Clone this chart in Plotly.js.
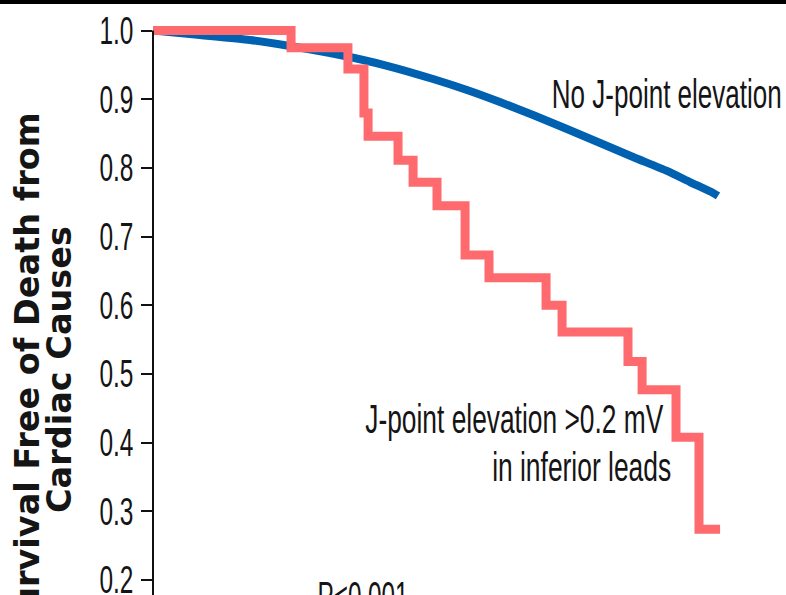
<!DOCTYPE html>
<html>
<head>
<meta charset="utf-8">
<script src="https://cdn.plot.ly/plotly-3.0.1.min.js"></script>
<style>
html,body{margin:0;padding:0;background:#fff;}
#chart{width:786px;height:595px;}
</style>
</head>
<body>
<div id="chart"></div>
<script>
// Data (years of follow-up, survival probability)
const noJTime = [0, 2.5, 5.15, 7.27, 9.93, 12.48, 14.87, 16.67, 18.42, 20.18, 21.98, 23.74, 25.49, 27.29, 28.51, 29.74, 30.0];
const noJSurv = [1.0, 0.9934, 0.9862, 0.9774, 0.9643, 0.9483, 0.9294, 0.9134, 0.8959, 0.8770, 0.8566, 0.8362, 0.8158, 0.7955, 0.7794, 0.7634, 0.7591];

const jTime = [0, 7.33, 10.35, 11.20, 11.42, 13.01, 13.81, 15.08, 16.57, 17.84, 20.87, 21.72, 25.22, 25.97, 27.77, 28.99, 30.11];
const jSurv = [1.0, 0.975, 0.944, 0.880, 0.846, 0.811, 0.779, 0.745, 0.673, 0.640, 0.600, 0.561, 0.518, 0.477, 0.408, 0.274, 0.274];

const yTickVals = [0.2, 0.3, 0.4, 0.5, 0.6, 0.7, 0.8, 0.9, 1.0];
const yTickText = ["0.2", "0.3", "0.4", "0.5", "0.6", "0.7", "0.8", "0.9", "1.0"];

const labelNoJ = "No J-point elevation";
const labelJ1 = "J-point elevation >0.2 mV";
const labelJ2 = "in inferior leads";
const pText = "P<0.001";
const yTitle1 = "Survival Free of Death from";
const yTitle2 = "Cardiac Causes";

// Layout geometry
const W = 786, H = 595, L = 153;
const xMax = 33.61;
const yMin = 0.1782, yMax = 1.0444;
const plotW = W - L;
function px2x(px){ return (px - L) / plotW * xMax; }
function py2y(py){ return yMax - py / H * (yMax - yMin); }
function px2paper(px){ return (px - L) / plotW; }
function py2paper(py){ return 1 - py / H; }

const tickFont = {family: "Liberation Sans, Arial, sans-serif", size: 38, color: "#151515"};
const txtFont = {family: "Liberation Sans, Arial, sans-serif", size: 40, color: "#151515"};
const titleFont = {family: "DejaVu Sans, sans-serif", size: 33.5, color: "#151515"};

const traces = [
  {x: noJTime, y: noJSurv, mode: "lines", line: {color: "#0061B0", width: 8, shape: "spline", smoothing: 0.6}, hoverinfo: "skip"},
  {x: jTime, y: jSurv, mode: "lines", line: {color: "#FF6A6E", width: 9, shape: "hv"}, hoverinfo: "skip"}
];

const annWidths = {0: 230, 1: 298, 2: 179, 3: 91};

const layout = {
  width: W, height: H,
  margin: {l: L, r: 0, t: 0, b: 0, pad: 0},
  paper_bgcolor: "#ffffff", plot_bgcolor: "#ffffff",
  showlegend: false,
  xaxis: {range: [0, xMax], visible: false, fixedrange: true},
  yaxis: {
    range: [yMin, yMax], showgrid: false, zeroline: false, showline: false,
    tickmode: "array", tickvals: yTickVals, ticktext: yTickText,
    ticks: "outside", ticklen: 11, tickwidth: 2, tickcolor: "#111",
    tickfont: tickFont, ticklabeloverflow: "allow", fixedrange: true
  },
  shapes: [
    {type: "line", xref: "paper", yref: "y", x0: 0, x1: 0, y0: yMin, y1: 1.0, line: {color: "#111", width: 2}},
    {type: "rect", xref: "paper", yref: "paper", x0: px2paper(0), x1: 1, y0: py2paper(4), y1: 1, fillcolor: "#000", line: {width: 0}}
  ],
  annotations: [
    {text: labelNoJ, xref: "x", yref: "y", x: px2x(667), y: py2y(94), xanchor: "center", yanchor: "middle", showarrow: false, font: txtFont},
    {text: labelJ1, xref: "x", yref: "y", x: px2x(514), y: py2y(419), xanchor: "center", yanchor: "middle", showarrow: false, font: txtFont},
    {text: labelJ2, xref: "x", yref: "y", x: px2x(581.5), y: py2y(467), xanchor: "center", yanchor: "middle", showarrow: false, font: txtFont},
    {text: pText, xref: "x", yref: "y", x: px2x(362.5), y: py2y(572), xanchor: "center", yanchor: "top", showarrow: false, font: txtFont},
    {text: "<b>" + yTitle1 + "</b>", xref: "paper", yref: "paper", x: px2paper(27), y: py2paper(374), xanchor: "center", yanchor: "middle", textangle: -90, showarrow: false, font: titleFont},
    {text: "<b>" + yTitle2 + "</b>", xref: "paper", yref: "paper", x: px2paper(59), y: py2paper(370), xanchor: "center", yanchor: "middle", textangle: -90, showarrow: false, font: titleFont}
  ]
};

function squeeze(el, w){
  el.setAttribute("textLength", w);
  el.setAttribute("lengthAdjust", "spacingAndGlyphs");
}

Plotly.newPlot("chart", traces, layout, {staticPlot: true, displayModeBar: false}).then(function(gd){
  gd.querySelectorAll(".ytick text").forEach(function(t){ squeeze(t, 34); });
  Object.keys(annWidths).forEach(function(k){
    const t = gd.querySelector('.annotation[data-index="' + k + '"] text.annotation-text');
    if (t) squeeze(t, annWidths[k]);
  });
});
</script>
</body>
</html>
